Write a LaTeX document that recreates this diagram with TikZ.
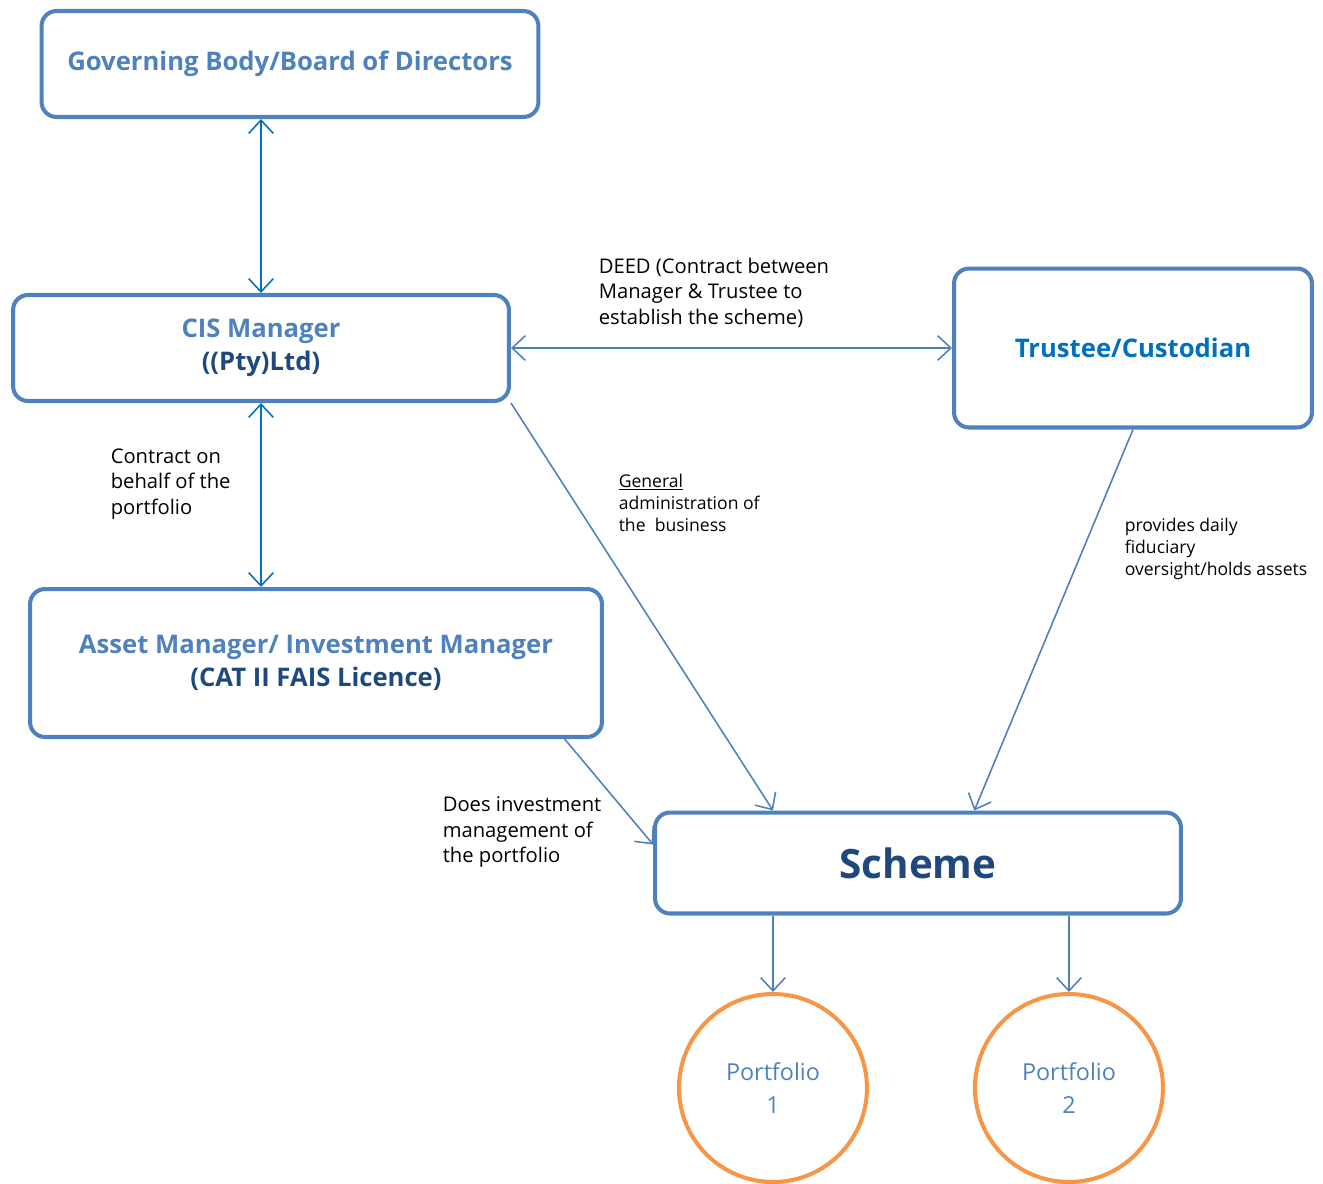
\documentclass[tikz,border=0pt]{standalone}
\usepackage{fontspec}
\setmainfont{Open Sans}
\usetikzlibrary{arrows.meta}
\definecolor{boxline}{HTML}{4F81BD}
\definecolor{darkline}{HTML}{0070C0}
\definecolor{darktext}{HTML}{1F497D}
\definecolor{orangeline}{HTML}{F79646}
\tikzset{
  box/.style={draw=boxline,line width=2.3pt,rounded corners=0.3cm,align=center,
    font=\fontsize{14.6}{18.5}\selectfont\bfseries},
  pcircle/.style={circle,draw=orangeline,line width=2.3pt,minimum size=3.76cm,align=center,
    text=boxline,font=\fontsize{13.3}{18.5}\selectfont},
  lbl/.style={anchor=north west,inner sep=0pt,align=left,font=\fontsize{11.5}{14.5}\selectfont},
  smalllbl/.style={lbl,font=\fontsize{10}{12.5}\selectfont},
}
\begin{document}
\begin{tikzpicture}[x=0.02cm,y=-0.02cm,>={Straight Barb[length=7.5pt,width=14pt]},line width=0.9pt]
    \useasboundingbox (0,0) rectangle (1323,1184);
    \node[box,minimum width=9.94cm,minimum height=2.12cm,text=boxline](1)at(290,64){Governing Body/Board of Directors};
    \node[box,minimum width=9.92cm,minimum height=2.12cm](2)at(261,348){\textcolor{boxline}{CIS Manager}\\\textcolor{darktext}{((Pty)Ltd)}};
    \node[box,minimum width=7.16cm,minimum height=3.18cm,text=darkline](3)at(1133,348){Trustee/Custodian};
    \node[box,minimum width=11.44cm,minimum height=2.96cm](4)at(316,663){\textcolor{boxline}{Asset Manager/ Investment Manager}\\\textcolor{darktext}{(CAT II FAIS Licence)}};
    \node[box,minimum width=10.52cm,minimum height=2.02cm,text=darktext,font=\fontsize{23}{26}\selectfont\bfseries](5)at(918,863){Scheme};
    \node[pcircle](6)at(773,1088){Portfolio\\1};
    \node[pcircle](7)at(1069,1088){Portfolio\\2};
    \node[lbl](8)at(598,257){DEED (Contract between\\Manager \& Trustee to\\establish the scheme)};
    \node[lbl](9)at(110,448){Contract on\\behalf of the\\portfolio};
    \node[smalllbl](10)at(618,473){\underline{General}\\administration of\\the\ \ business};
    \node[smalllbl](11)at(1124,517){provides daily\\fiduciary\\oversight/holds assets};
    \node[lbl](12)at(442,796){Does investment\\management of\\the portfolio};
    \draw[<->,darkline](2.north |- 1.south)--(2.north);
    \draw[<->,darkline](2.south)--(2.south |- 4.north);
    \draw[<->,boxline](2.east)--(3.west);
    \draw[->,boxline](2.south east)--(6.north |- 5.north);
    \draw[->,boxline](3.south)--(5.43);
    \draw[->,boxline](4.-17)--(5.176);
    \draw[->,boxline](6.north |- 5.south)--(6.north);
    \draw[->,boxline](7.north |- 5.south)--(7.north);
\end{tikzpicture}
\end{document}
